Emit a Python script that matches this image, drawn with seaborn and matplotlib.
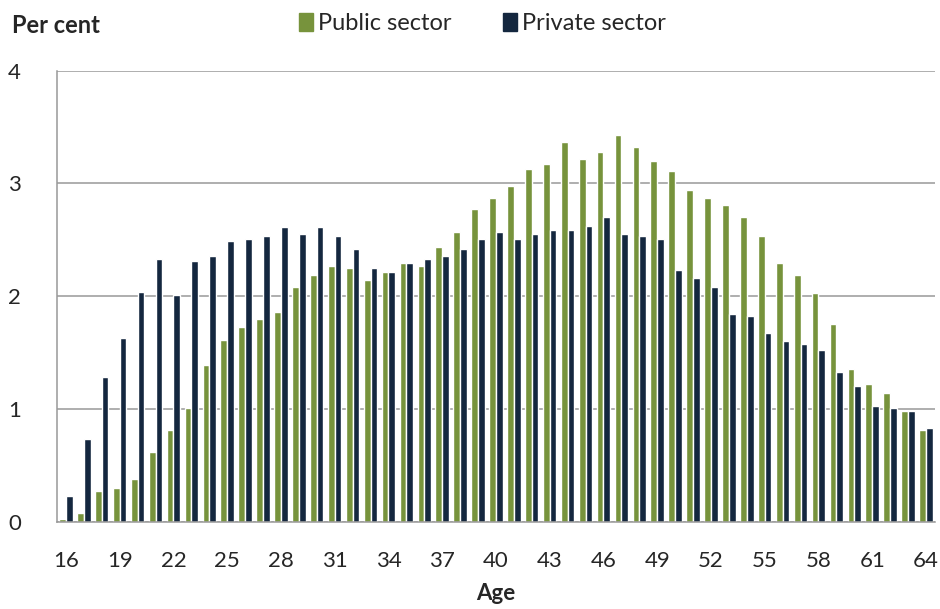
import numpy as np
import pandas as pd
import seaborn as sns
import matplotlib.pyplot as plt
from matplotlib.ticker import FixedLocator

# Wiek 16-64, udział w zatrudnieniu (%)
AGES = list(range(16, 65))
PUBLIC = [0.02, 0.08, 0.27, 0.30, 0.38, 0.62, 0.81, 1.01, 1.39, 1.61,
          1.73, 1.80, 1.86, 2.08, 2.19, 2.27, 2.25, 2.14, 2.21, 2.29,
          2.27, 2.44, 2.57, 2.77, 2.87, 2.98, 3.13, 3.17, 3.37, 3.22,
          3.28, 3.43, 3.32, 3.20, 3.11, 2.94, 2.87, 2.81, 2.70, 2.53,
          2.29, 2.19, 2.03, 1.75, 1.35, 1.22, 1.14, 0.98, 0.81]
PRIVATE = [0.23, 0.73, 1.28, 1.63, 2.04, 2.33, 2.01, 2.31, 2.36, 2.49,
           2.51, 2.53, 2.61, 2.55, 2.61, 2.53, 2.42, 2.25, 2.21, 2.29,
           2.33, 2.36, 2.42, 2.51, 2.57, 2.51, 2.55, 2.59, 2.59, 2.62,
           2.70, 2.55, 2.53, 2.51, 2.23, 2.16, 2.08, 1.84, 1.82, 1.67,
           1.60, 1.58, 1.52, 1.33, 1.20, 1.03, 1.01, 0.98, 0.83]
SERIES = ["Public sector", "Private sector"]
COLORS = ["#77933C", "#14273F"]
Y_TICKS = [0, 1, 2, 3, 4]

df = pd.DataFrame({
    "Age": [str(a) for a in AGES] * 2,
    "Sector": [SERIES[0]] * len(AGES) + [SERIES[1]] * len(AGES),
    "Value": PUBLIC + PRIVATE,
})

sns.set_style("white")
plt.rcParams["font.family"] = ["Lato", "DejaVu Sans"]

fig = plt.figure(figsize=(9.4, 6.09), dpi=100)
ax = fig.add_axes([0.0606, 0.1434, 0.934, 0.7406])

sns.barplot(data=df, x="Age", y="Value", hue="Sector", palette=COLORS,
            width=0.75, ax=ax, legend=False, saturation=1)

n = len(AGES)
ax.set_xlim(-0.5, n - 0.5)
ax.set_ylim(0, 4)
ax.set_yticks(Y_TICKS)
ax.set_yticklabels([str(t) for t in Y_TICKS], fontsize=16)
ax.yaxis.grid(True, color="#999999", linewidth=1.1)
ax.set_axisbelow(True)

# etykiety co 3 lata, kreski na granicach kategorii
lab_pos = list(range(0, n, 3))
ax.set_xticks(lab_pos)
ax.set_xticklabels([str(AGES[i]) for i in lab_pos], fontsize=16)
ax.tick_params(axis="x", which="major", length=0, pad=21)
ax.xaxis.set_minor_locator(FixedLocator([i - 0.5 for i in range(0, n, 3)]))
ax.tick_params(axis="x", which="minor", length=6, color="#999999", width=1.1)
ax.tick_params(axis="y", length=6, color="#999999", width=1.1, pad=20)

for s in ["top", "right"]:
    ax.spines[s].set_visible(False)
for s in ["left", "bottom"]:
    ax.spines[s].set_color("#999999")
    ax.spines[s].set_linewidth(1.1)

ax.set_xlabel("Age", fontsize=16, fontweight="bold", labelpad=9)
ax.set_ylabel("")
fig.text(0.013, 0.958, "Per cent", fontsize=17, fontweight="bold", va="center")

handles = [plt.Rectangle((0, 0), 1, 1, color=c) for c in COLORS]
fig.legend(handles, SERIES, loc="center", bbox_to_anchor=(0.513, 0.962), ncol=2,
           frameon=False, fontsize=17, handlelength=0.6, handleheight=0.8,
           handletextpad=0.2, columnspacing=2.2)

fig.savefig("out.png", dpi=100)
